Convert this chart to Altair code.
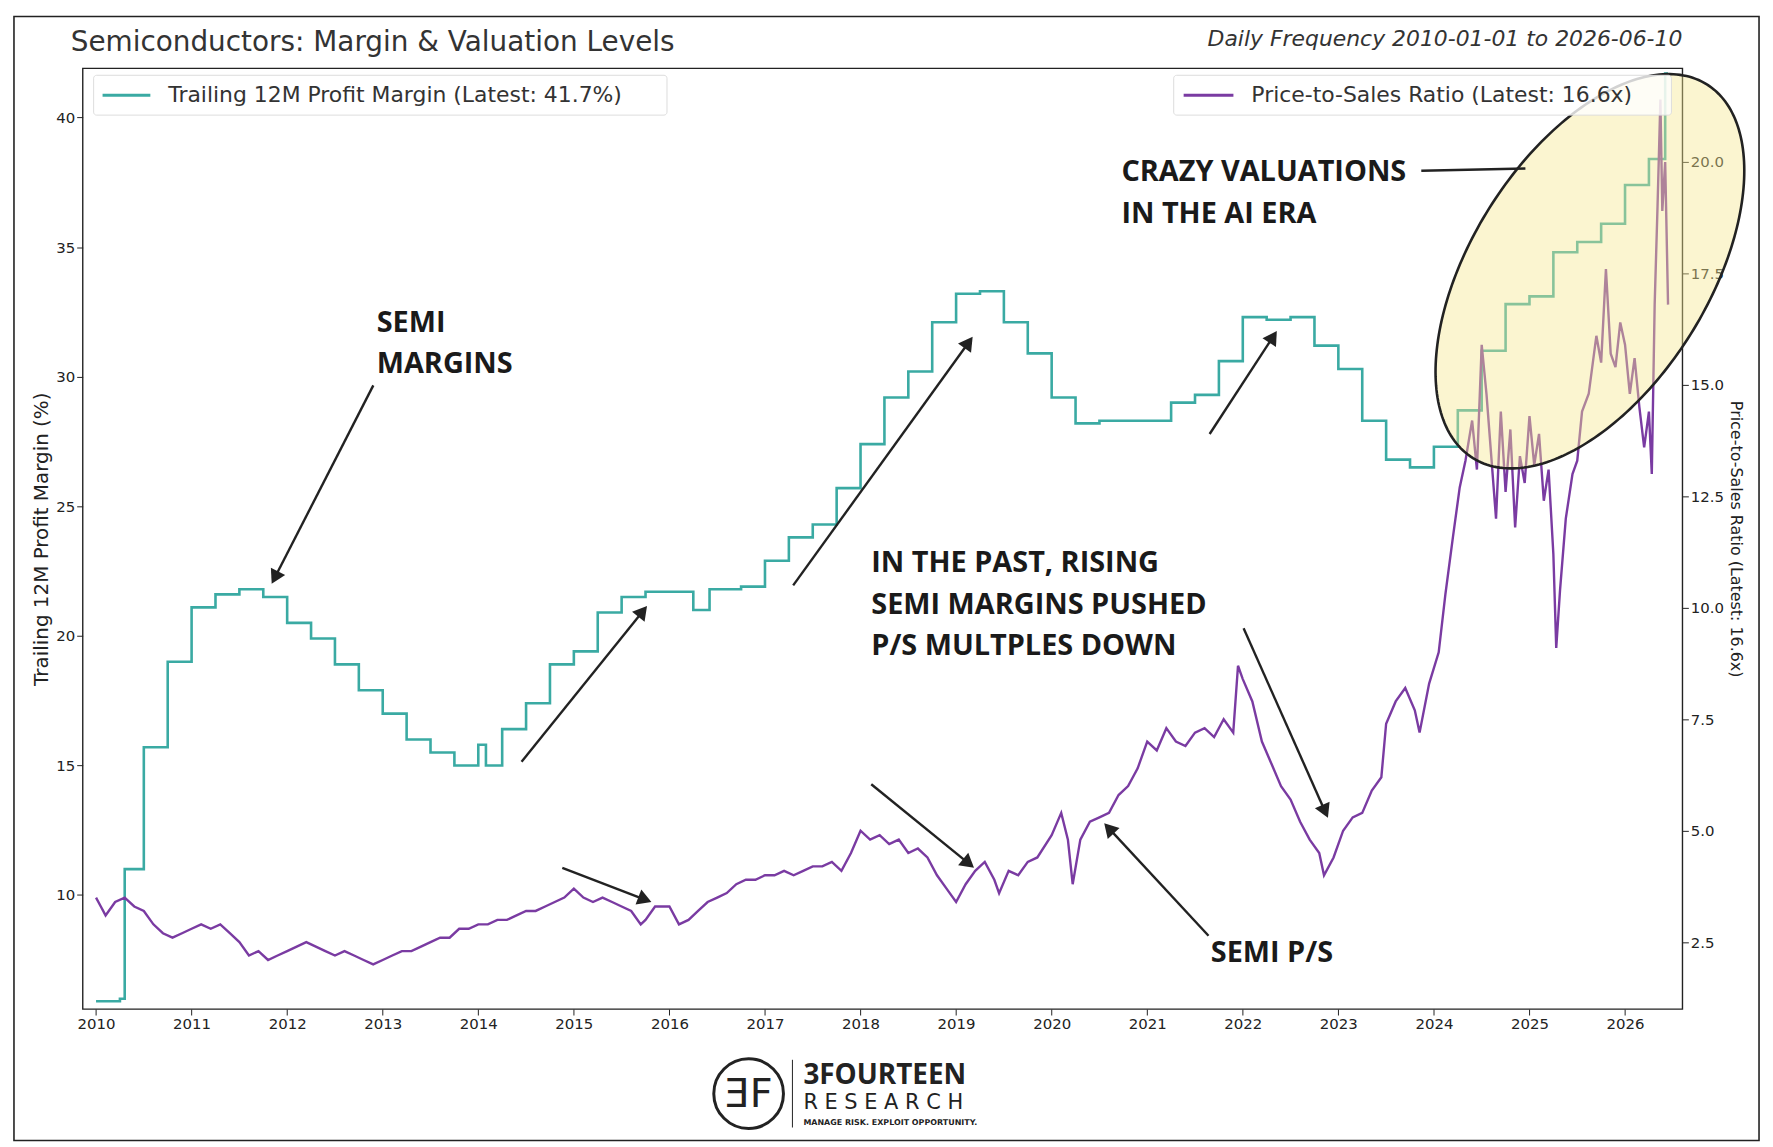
import altair as alt
import pandas as pd
import numpy as np

# ---- data ----
m_t = [2010.0, 2010.25, 2010.3, 2010.5, 2010.75, 2011.0, 2011.25, 2011.5, 2011.75, 2012.0, 2012.25, 2012.5,
       2012.75, 2013.0, 2013.25, 2013.5, 2013.75, 2014.0, 2014.08, 2014.25, 2014.5, 2014.75, 2015.0, 2015.25,
       2015.5, 2015.75, 2016.0, 2016.25, 2016.42, 2016.75, 2017.0, 2017.25, 2017.5, 2017.75, 2018.0, 2018.25,
       2018.5, 2018.75, 2019.0, 2019.25, 2019.5, 2019.75, 2020.0, 2020.25, 2020.5, 2020.75, 2021.0, 2021.25,
       2021.5, 2021.75, 2022.0, 2022.25, 2022.5, 2022.75, 2023.0, 2023.25, 2023.5, 2023.75, 2024.0, 2024.25,
       2024.5, 2024.75, 2025.0, 2025.25, 2025.5, 2025.75, 2026.0, 2026.25, 2026.42, 2026.45]
m_v = [5.9, 6.0, 11.0, 15.7, 19.0, 21.1, 21.6, 21.8, 21.5, 20.5, 19.9, 18.9,
       17.9, 17.0, 16.0, 15.5, 15.0, 15.8, 15.0, 16.4, 17.4, 18.9, 19.4, 20.9,
       21.5, 21.7, 21.7, 21.0, 21.8, 21.9, 22.9, 23.8, 24.3, 25.7, 27.4, 29.2,
       30.2, 32.1, 33.2, 33.3, 32.1, 30.9, 29.2, 28.2, 28.3, 28.3, 28.3, 29.0,
       29.3, 30.6, 32.3, 32.2, 32.3, 31.2, 30.3, 28.3, 26.8, 26.5, 27.3, 28.7,
       31.0, 32.8, 33.1, 34.8, 35.2, 35.9, 37.4, 38.4, 41.7, 41.7]

p_t = [2010.0, 2010.05, 2010.1, 2010.2, 2010.3, 2010.4, 2010.5, 2010.6, 2010.7, 2010.8, 2010.9, 2011.0,
       2011.1, 2011.2, 2011.3, 2011.4, 2011.5, 2011.6, 2011.7, 2011.8, 2011.9, 2012.0, 2012.1, 2012.2,
       2012.3, 2012.4, 2012.5, 2012.6, 2012.7, 2012.8, 2012.9, 2013.0, 2013.1, 2013.2, 2013.3, 2013.4,
       2013.5, 2013.6, 2013.7, 2013.8, 2013.9, 2014.0, 2014.1, 2014.2, 2014.3, 2014.4, 2014.5, 2014.6,
       2014.7, 2014.8, 2014.9, 2015.0, 2015.1, 2015.2, 2015.3, 2015.4, 2015.5, 2015.6, 2015.7, 2015.75,
       2015.85, 2016.0, 2016.1, 2016.2, 2016.3, 2016.4, 2016.5, 2016.6, 2016.7, 2016.8, 2016.9, 2017.0,
       2017.1, 2017.2, 2017.3, 2017.4, 2017.5, 2017.6, 2017.7, 2017.8, 2017.9, 2018.0, 2018.1, 2018.2,
       2018.3, 2018.4, 2018.5, 2018.6, 2018.7, 2018.8, 2018.9, 2019.0, 2019.1, 2019.2, 2019.3, 2019.4,
       2019.45, 2019.55, 2019.65, 2019.75, 2019.85, 2020.0, 2020.1, 2020.17, 2020.22, 2020.3, 2020.4, 2020.5,
       2020.6, 2020.7, 2020.8, 2020.9, 2021.0, 2021.1, 2021.2, 2021.3, 2021.4, 2021.5, 2021.6, 2021.7,
       2021.8, 2021.9, 2021.95, 2022.0, 2022.1, 2022.2, 2022.3, 2022.4, 2022.5, 2022.6, 2022.7, 2022.8,
       2022.85, 2022.95, 2023.05, 2023.15, 2023.25, 2023.35, 2023.45, 2023.5, 2023.6, 2023.7, 2023.8, 2023.85,
       2023.95, 2024.05, 2024.12, 2024.2, 2024.27, 2024.33, 2024.4, 2024.45, 2024.5, 2024.55, 2024.6, 2024.65,
       2024.7, 2024.75, 2024.8, 2024.85, 2024.9, 2024.95, 2025.0, 2025.05, 2025.1, 2025.15, 2025.2, 2025.25,
       2025.28, 2025.32, 2025.38, 2025.45, 2025.5, 2025.55, 2025.62, 2025.7, 2025.75, 2025.8, 2025.85, 2025.9,
       2025.95, 2026.0, 2026.05, 2026.1, 2026.15, 2026.2, 2026.25, 2026.28, 2026.31, 2026.34, 2026.37, 2026.39,
       2026.42, 2026.45]
p_v = [3.5, 3.3, 3.1, 3.4, 3.5, 3.3, 3.2, 2.9, 2.7, 2.6, 2.7, 2.8,
       2.9, 2.8, 2.9, 2.7, 2.5, 2.2, 2.3, 2.1, 2.2, 2.3, 2.4, 2.5,
       2.4, 2.3, 2.2, 2.3, 2.2, 2.1, 2.0, 2.1, 2.2, 2.3, 2.3, 2.4,
       2.5, 2.6, 2.6, 2.8, 2.8, 2.9, 2.9, 3.0, 3.0, 3.1, 3.2, 3.2,
       3.3, 3.4, 3.5, 3.7, 3.5, 3.4, 3.5, 3.4, 3.3, 3.2, 2.9, 3.0,
       3.3, 3.3, 2.9, 3.0, 3.2, 3.4, 3.5, 3.6, 3.8, 3.9, 3.9, 4.0,
       4.0, 4.1, 4.0, 4.1, 4.2, 4.2, 4.3, 4.1, 4.5, 5.0, 4.8, 4.9,
       4.7, 4.8, 4.5, 4.6, 4.4, 4.0, 3.7, 3.4, 3.8, 4.1, 4.3, 3.9,
       3.6, 4.1, 4.0, 4.3, 4.4, 4.9, 5.4, 4.8, 3.8, 4.8, 5.2, 5.3,
       5.4, 5.8, 6.0, 6.4, 7.0, 6.8, 7.3, 7.0, 6.9, 7.2, 7.3, 7.1,
       7.5, 7.2, 8.7, 8.4, 7.9, 7.0, 6.5, 6.0, 5.7, 5.2, 4.8, 4.5,
       4.0, 4.4, 5.0, 5.3, 5.4, 5.9, 6.2, 7.4, 7.9, 8.2, 7.7, 7.2,
       8.3, 9.0, 10.3, 11.6, 12.7, 13.3, 14.2, 13.1, 15.9, 14.8, 13.4, 12.0,
       14.4, 12.6, 14.0, 11.8, 13.4, 12.8, 14.3, 13.2, 13.9, 12.4, 13.1, 11.2,
       9.1, 10.4, 12.0, 13.0, 13.3, 14.4, 14.8, 16.1, 15.5, 17.6, 15.7, 15.4,
       16.4, 15.9, 14.8, 15.6, 14.5, 13.6, 14.4, 13.0, 16.8, 19.0, 21.4, 18.9,
       20.0, 16.8]

# ---- helpers: reference-picture coords -> data ----
def yr(xd):
    return 2010 + (xd - 82) / 84.44

def mg(yd):
    return 10 + (786 - yd) / 114.67 * 5

XD = [2009.86, 2026.6]
YL = [5.6, 41.9]
YR = [1.0, 22.1]
W, H = 1607, 945
TEAL = "#3aaaa3"
PURP = "#7a3ba2"
FONT = "DejaVu Sans"

xenc = alt.X("t:Q", scale=alt.Scale(domain=XD, nice=False, zero=False),
             axis=alt.Axis(values=list(range(2010, 2027)), format="d", title=None, grid=False,
                           labelFontSize=15, labelColor="#222", tickColor="#222", tickSize=6,
                           domain=False, labelFont=FONT))

mdf = pd.DataFrame({"t": m_t, "v": m_v})
pdf = pd.DataFrame({"t": p_t, "v": p_v})

margin = alt.Chart(mdf).mark_line(color=TEAL, strokeWidth=2.6, interpolate="step-after").encode(
    x=xenc,
    y=alt.Y("v:Q", scale=alt.Scale(domain=YL, nice=False, zero=False),
            axis=alt.Axis(values=[10, 15, 20, 25, 30, 35, 40], grid=False, title="Trailing 12M Profit Margin (%)",
                          titleFontSize=20, titleFontWeight="normal", titleColor="#222", labelFontSize=15,
                          labelColor="#222", tickColor="#222", tickSize=6, domain=False, labelFont=FONT,
                          titleFont=FONT)))

ps = alt.Chart(pdf).mark_line(color=PURP, strokeWidth=2.4).encode(
    x=alt.X("t:Q", scale=alt.Scale(domain=XD, nice=False, zero=False)),
    y=alt.Y("v:Q", scale=alt.Scale(domain=YR, nice=False, zero=False),
            axis=alt.Axis(orient="right", values=[2.5, 5, 7.5, 10, 12.5, 15, 17.5, 20], format=".1f",
                          grid=False, title="Price-to-Sales Ratio (Latest: 16.6x)", titleFontSize=16,
                          titleFontWeight="normal", titleColor="#222", labelFontSize=15, labelColor="#222",
                          tickColor="#222", tickSize=6, domain=False, labelFont=FONT, titleFont=FONT)))

# ---- ellipse annotation ----
cx, cy, a, b, ang = 1402, 234, 195, 105, np.deg2rad(58)
tt = np.linspace(0, 2 * np.pi, 241)
ex = cx + a * np.cos(tt) * np.cos(ang) + b * np.sin(tt) * np.sin(ang)
ey = cy - a * np.cos(tt) * np.sin(ang) + b * np.sin(tt) * np.cos(ang)
il, ir = int(np.argmin(ex[:240])), int(np.argmax(ex[:240]))
xs = np.linspace(ex[il], ex[ir], 200)
pts = [(ex[i], ey[i]) for i in range(240)]
order = [(il + k) % 240 for k in range(240)]
k_r = order.index(ir)
arc1 = [pts[i] for i in order[:k_r + 1]]
arc2 = ([pts[i] for i in order[k_r:]] + [pts[il]])[::-1]
y1 = np.interp(xs, [p[0] for p in arc1], [p[1] for p in arc1])
y2 = np.interp(xs, [p[0] for p in arc2], [p[1] for p in arc2])
edf = pd.DataFrame({"t": yr(xs), "lo": mg(np.maximum(y1, y2)), "hi": mg(np.minimum(y1, y2))})
odf = pd.DataFrame({"t": yr(ex), "v": mg(ey), "o": np.arange(len(ex))})

ysc = alt.Scale(domain=YL, nice=False, zero=False)
xsc = alt.Scale(domain=XD, nice=False, zero=False)
ell = alt.Chart(edf).mark_area(color="#f6e890", opacity=0.42).encode(
    x=alt.X("t:Q", scale=xsc), y=alt.Y("lo:Q", scale=ysc, axis=None), y2="hi:Q")
ello = alt.Chart(odf).mark_line(color="#222", strokeWidth=2.6).encode(
    x=alt.X("t:Q", scale=xsc), y=alt.Y("v:Q", scale=ysc, axis=None), order="o:Q")

# ---- arrows ----
arrows = [((327, 335), (240, 505)), ((458, 668), (565, 535)), ((698, 512), (853, 297)),
          ((1066, 378), (1122, 292)), ((494, 762), (567, 790)), ((767, 688), (853, 758)),
          ((1065, 822), (977, 727)), ((1096, 550), (1168, 712))]
rows, heads = [], []
for (x0, y0), (x1, y1_) in arrows:
    rows.append({"t": yr(x0), "v": mg(y0), "t2": yr(x1), "v2": mg(y1_)})
    angd = np.degrees(np.arctan2(x1 - x0, -(y1_ - y0))) % 360
    heads.append({"t": yr(x1), "v": mg(y1_), "a": angd})
rows.append({"t": yr(1253), "v": mg(145), "t2": yr(1345), "v2": mg(143)})
adf = pd.DataFrame(rows)
hdf = pd.DataFrame(heads)
ashaft = alt.Chart(adf).mark_rule(color="#222", strokeWidth=2.4).encode(
    x=alt.X("t:Q", scale=xsc), x2="t2:Q", y=alt.Y("v:Q", scale=ysc, axis=None), y2="v2:Q")
ahead = alt.Chart(hdf).mark_point(shape="triangle-up", filled=True, color="#222", size=260, opacity=1).encode(
    x=alt.X("t:Q", scale=xsc), y=alt.Y("v:Q", scale=ysc, axis=None), angle=alt.Angle("a:Q", scale=None))

labels = [("SEMI", 330, 280), ("MARGINS", 330, 316), ("CRAZY VALUATIONS", 988, 146), ("IN THE AI ERA", 988, 183),
          ("IN THE PAST, RISING", 767, 492), ("SEMI MARGINS PUSHED", 767, 529), ("P/S MULTPLES DOWN", 767, 566),
          ("SEMI P/S", 1067, 837)]
ldf = pd.DataFrame({"txt": [l[0] for l in labels], "t": [yr(l[1]) for l in labels], "v": [mg(l[2]) for l in labels]})
ltext = alt.Chart(ldf).mark_text(align="left", baseline="middle", fontSize=29, fontWeight="bold",
                                 font="Open Sans", color="#1a1a1a").encode(
    x=alt.X("t:Q", scale=xsc), y=alt.Y("v:Q", scale=ysc, axis=None), text="txt:N")

# ---- pixel-placed decorations ----
one = pd.DataFrame({"k": [0]})
def rect(x, x2, y, y2, **kw):
    return alt.Chart(one).mark_rect(**kw).encode(x=alt.value(x), x2=alt.value(x2), y=alt.value(y), y2=alt.value(y2))
def txt(s, x, y, **kw):
    return alt.Chart(one).mark_text(**kw).encode(x=alt.value(x), y=alt.value(y), text=alt.value(s))
def seg(x, x2, y, color, w):
    return alt.Chart(one).mark_rule(color=color, strokeWidth=w).encode(x=alt.value(x), x2=alt.value(x2), y=alt.value(y))

deco = [
    rect(-69, 1684, -52, 1077, fill=None, stroke="#222", strokeWidth=1.6),
    rect(11, 587, 7, 47, fill="white", fillOpacity=0.8, stroke="#ddd", strokeWidth=1, cornerRadius=3),
    seg(20, 68, 27, TEAL, 3),
    txt("Trailing 12M Profit Margin (Latest: 41.7%)", 86, 27, align="left", baseline="middle", fontSize=22,
        font=FONT, color="#333"),
    rect(1096, 1596, 7, 47, fill="white", fillOpacity=0.8, stroke="#ddd", strokeWidth=1, cornerRadius=3),
    seg(1106, 1156, 27, PURP, 3),
    txt("Price-to-Sales Ratio (Latest: 16.6x)", 1174, 27, align="left", baseline="middle", fontSize=22,
        font=FONT, color="#333"),
    txt("Semiconductors: Margin & Valuation Levels", -12, -25, align="left", baseline="middle", fontSize=28,
        font=FONT, color="#333"),
    txt("Daily Frequency 2010-01-01 to 2026-06-10", 1607, -29, align="right", baseline="middle", fontSize=22,
        font=FONT, fontStyle="italic", color="#333"),
    alt.Chart(one).mark_point(shape="circle", filled=False, color="#222", strokeWidth=3, size=4900, opacity=1).encode(
        x=alt.value(669), y=alt.value(1030)),
    txt("ƎF", 669, 1031, align="center", baseline="middle", fontSize=40, font=FONT, color="#222"),
    alt.Chart(one).mark_rule(color="#222", strokeWidth=1).encode(x=alt.value(713), y=alt.value(996), y2=alt.value(1064)),
    txt("3FOURTEEN", 724, 1012, align="left", baseline="middle", fontSize=28, fontWeight="bold", font="Open Sans",
        color="#222"),
    txt("R E S E A R C H", 724, 1039, align="left", baseline="middle", fontSize=21, font=FONT, color="#222"),
    txt("MANAGE RISK. EXPLOIT OPPORTUNITY.", 724, 1059, align="left", baseline="middle", fontSize=8,
        fontWeight="bold", font=FONT, color="#222"),
]

annot = alt.layer(ell, ello, ashaft, ahead, ltext, *deco)

chart = alt.layer(margin, ps, annot).resolve_scale(y="independent").properties(
    width=W, height=H, background="white"
).configure_view(stroke="#222", strokeWidth=1.4)

chart.save("out.html", embed_options={"renderer": "svg", "actions": False})
